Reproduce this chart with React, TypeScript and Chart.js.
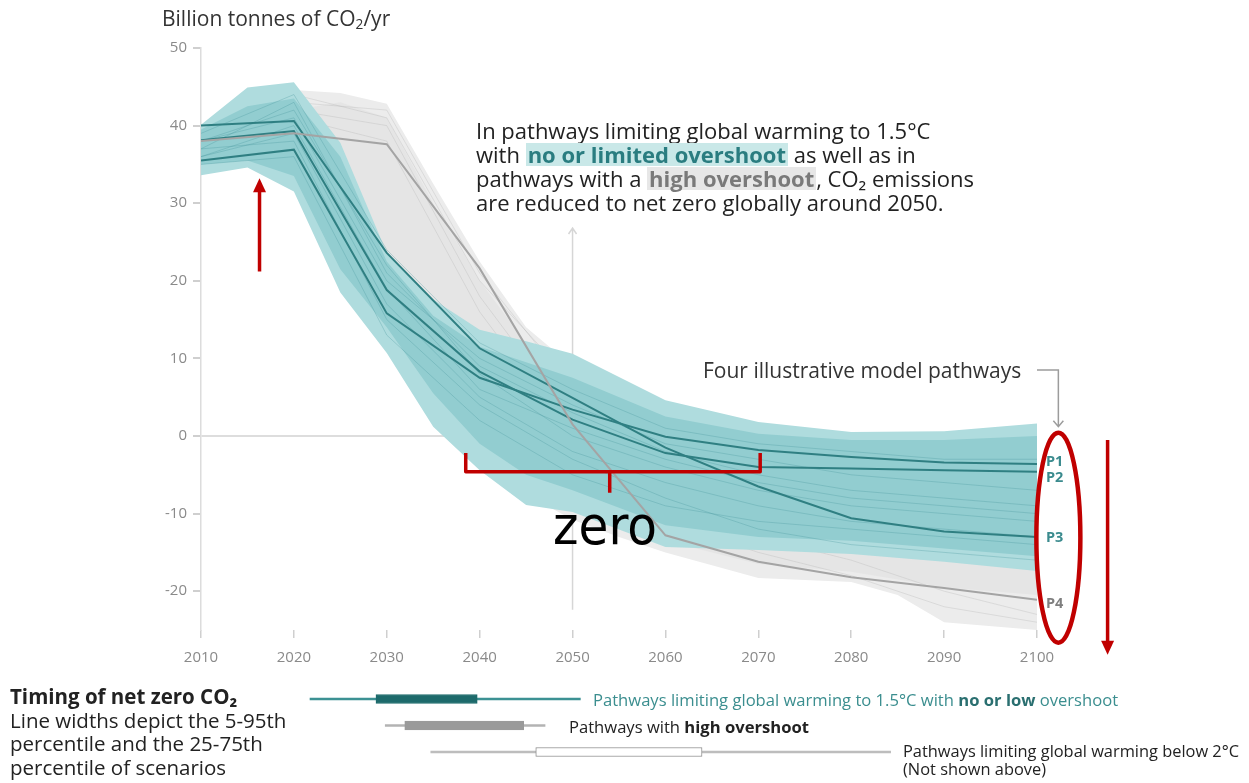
import React, { useEffect, useRef } from "react";
import { Chart, registerables } from "chart.js";

Chart.register(...registerables);

// ---------- DATA ----------
const BAND_YEARS = [2010, 2015, 2020, 2025, 2030, 2035, 2040, 2045, 2050, 2060, 2070, 2080, 2090, 2100];
const TEAL_OUTER_HIGH = [40.1, 44.9, 45.6, 37.8, 23.6, 17.6, 13.7, 12.2, 10.6, 4.6, 1.8, 0.5, 0.6, 1.6];
const TEAL_OUTER_LOW = [33.6, 34.6, 31.5, 18.5, 10.7, 1.2, -4.4, -8.9, -9.8, -14.3, -14.7, -15.2, -16.2, -17.4];
const TEAL_INNER_HIGH = [39.5, 42.5, 43.5, 36.0, 22.5, 15.5, 11.5, 9.5, 7.5, 2.5, 0.3, -0.5, -0.5, 0.0];
const TEAL_INNER_LOW = [35.0, 35.5, 33.5, 21.5, 14.0, 5.5, -1.0, -5.0, -7.0, -11.5, -13.0, -13.5, -14.5, -15.5];

const GRAY_YEARS = [2020, 2025, 2030, 2035, 2040, 2045, 2050, 2055, 2060, 2070, 2080, 2085, 2090, 2100];
const GRAY_OUTER_HIGH = [44.6, 44.2, 42.8, 32.5, 22.5, 14.0, 9.0, 6.0, 3.0, -1.0, -3.0, -4.0, -4.5, -5.0];
const GRAY_OUTER_LOW = [35.0, 26.0, 15.0, 5.0, -2.0, -7.5, -10.8, -13.0, -15.0, -18.3, -18.8, -20.5, -24.0, -25.0];
const GRAY_INNER_HIGH = [42.0, 43.0, 41.0, 30.0, 20.0, 12.0, 6.0, 3.0, 0.0, -3.0, -5.0, -6.0, -6.5, -7.0];
const GRAY_INNER_LOW = [36.0, 30.0, 20.0, 8.0, 0.0, -5.0, -9.0, -11.5, -13.5, -16.5, -17.5, -18.5, -19.5, -20.5];

const LINE_YEARS = [2010, 2020, 2030, 2040, 2050, 2060, 2070, 2080, 2090, 2100];
const P1 = [35.5, 36.9, 15.8, 7.5, 3.4, -0.1, -1.8, -2.7, -3.4, -3.6];
const P2 = [38.1, 39.3, 18.8, 8.3, 2.1, -2.2, -4.0, -4.2, -4.4, -4.6];
const P3 = [40.0, 40.6, 23.6, 11.3, 4.9, -1.5, -6.5, -10.6, -12.3, -13.0];
const P4 = [38.0, 39.0, 37.6, 21.6, 1.5, -12.8, -16.2, -18.2, -19.6, -21.1];

const TEAL_SCEN_A = [37, 43, 21, 9, 3, -2, -5, -7, -8, -9];
const TEAL_SCEN_B = [36, 39, 17, 5, -2, -6, -9, -11, -12, -13];
const TEAL_SCEN_C = [39, 44, 24, 12, 6, 1, -1, -2, -3, -3];
const TEAL_SCEN_D = [35, 36, 13, 2, -5, -9, -11, -12, -13, -14];
const TEAL_SCEN_E = [38, 41, 20, 10, 4, -1, -3, -5, -6, -7];
const TEAL_SCEN_F = [37, 38, 15, 4, -3, -8, -12, -14, -15, -16];
const TEAL_SCEN_G = [38, 42, 22, 8, 0, -4, -7, -9, -10, -11];
const TEAL_SCEN_H = [36, 40, 19, 6, 1, -3, -6, -8, -9, -10];

const GRAY_SCEN_A = [38, 43, 42, 21, 6, -3, -7, -10, -12, -14];
const GRAY_SCEN_B = [37, 42, 40, 18, 2, -9, -13, -16, -20, -23];
const GRAY_SCEN_C = [39, 44, 41, 20, 7, 0, -4, -7, -9, -11];
const GRAY_SCEN_D = [38, 41, 38, 16, 0, -11, -15, -18, -22, -24];

const X_TICKS = [2010, 2020, 2030, 2040, 2050, 2060, 2070, 2080, 2090, 2100];
const Y_TICKS = [-20, -10, 0, 10, 20, 30, 40, 50];

// timing of net zero CO2 (years)
const TIMING_CATS = ["1.5°C no or low overshoot", "High overshoot", "Below 2°C"];
const TIMING_5_95 = [[2039.0, 2068.1], [2047.1, 2064.3], [2052.0, 2101.5]];
const TIMING_25_75 = [[2046.1, 2057.0], [2049.2, 2062.0], [2063.3, 2081.2]];

// ---------- HELPERS ----------
const pts = (xs: number[], ys: number[]) => xs.map((x, i) => ({ x, y: ys[i] }));

const band = (xs: number[], hi: number[], lo: number[], color: string, order: number) => [
  { data: pts(xs, hi), fill: "+1", backgroundColor: color, borderWidth: 0, pointRadius: 0, order },
  { data: pts(xs, lo), fill: false, borderWidth: 0, pointRadius: 0, order },
];

const thin = (ys: number[], color: string, order: number) => ({
  data: pts(LINE_YEARS, ys), fill: false, borderColor: color, borderWidth: 1, pointRadius: 0, order,
});

const RED = "#c00000";

function arrowHead(ctx: any, x: number, y: number, dir: number, w: number, h: number) {
  ctx.beginPath();
  ctx.moveTo(x, y);
  ctx.lineTo(x - w / 2, y - dir * h);
  ctx.lineTo(x + w / 2, y - dir * h);
  ctx.closePath();
  ctx.fill();
}

const annotPlugin = {
  id: "annot",
  beforeDatasetsDraw(chart: any) {
    const { ctx, scales } = chart;
    const x = scales.x, y = scales.y;
    const px = x.getPixelForValue(2050);
    const t = y.getPixelForValue(26.8), b = y.getPixelForValue(-22.4);
    ctx.save();
    ctx.strokeStyle = "#d6d6d6";
    ctx.lineWidth = 1.5;
    ctx.beginPath();
    ctx.moveTo(px, t);
    ctx.lineTo(px, b);
    ctx.moveTo(px - 4, t + 6);
    ctx.lineTo(px, t);
    ctx.lineTo(px + 4, t + 6);
    ctx.stroke();
    ctx.restore();
  },
  afterDraw(chart: any) {
    const { ctx, scales } = chart;
    const x = scales.x, y = scales.y;
    ctx.save();
    // connector from "Four illustrative model pathways"
    ctx.strokeStyle = "#9c9c9c";
    ctx.lineWidth = 1.5;
    const cx0 = x.getPixelForValue(2100.0), cx1 = x.getPixelForValue(2102.3);
    const cy0 = y.getPixelForValue(8.5), cy1 = y.getPixelForValue(1.2);
    ctx.beginPath();
    ctx.moveTo(cx0, cy0);
    ctx.lineTo(cx1, cy0);
    ctx.lineTo(cx1, cy1);
    ctx.moveTo(cx1 - 5, cy1 - 6);
    ctx.lineTo(cx1, cy1);
    ctx.lineTo(cx1 + 5, cy1 - 6);
    ctx.stroke();

    // red up arrow
    ctx.strokeStyle = RED;
    ctx.fillStyle = RED;
    ctx.lineWidth = 3.5;
    const ax = x.getPixelForValue(2016.3);
    const ay0 = y.getPixelForValue(21.2), ay1 = y.getPixelForValue(33.2);
    ctx.beginPath();
    ctx.moveTo(ax, ay0);
    ctx.lineTo(ax, ay1 + 12);
    ctx.stroke();
    arrowHead(ctx, ax, ay1, -1, 13, 14);

    // brace
    const bl = x.getPixelForValue(2038.5), br = x.getPixelForValue(2070.2), bm = x.getPixelForValue(2054.0);
    const bt = y.getPixelForValue(-2.2), bh = y.getPixelForValue(-4.6), bb = y.getPixelForValue(-7.3);
    ctx.lineWidth = 3.5;
    ctx.lineJoin = "round";
    ctx.beginPath();
    ctx.moveTo(bl, bt);
    ctx.lineTo(bl, bh);
    ctx.lineTo(br, bh);
    ctx.lineTo(br, bt);
    ctx.moveTo(bm, bh);
    ctx.lineTo(bm, bb);
    ctx.stroke();

    // ellipse around P labels
    const ex = x.getPixelForValue(2102.3), ey = y.getPixelForValue(-13.1);
    ctx.lineWidth = 4.5;
    ctx.beginPath();
    ctx.ellipse(ex, ey, 22, 105, 0, 0, Math.PI * 2);
    ctx.stroke();

    // red down arrow
    const dx = x.getPixelForValue(2107.6);
    const dy0 = y.getPixelForValue(-0.5), dy1 = y.getPixelForValue(-28.2);
    ctx.lineWidth = 3.5;
    ctx.beginPath();
    ctx.moveTo(dx, dy0);
    ctx.lineTo(dx, dy1 - 12);
    ctx.stroke();
    arrowHead(ctx, dx, dy1, 1, 13, 14);
    ctx.restore();
  },
};

const TICK_FONT = { family: '"Open Sans", sans-serif', size: 15 };

export default function App() {
  const mainRef = useRef<HTMLCanvasElement>(null);
  const legRef = useRef<HTMLCanvasElement>(null);

  useEffect(() => {
    const teal = "#2f7f82";
    const datasets: any[] = [
      ...band(GRAY_YEARS, GRAY_OUTER_HIGH, GRAY_OUTER_LOW, "#ececec", 100),
      ...band(GRAY_YEARS, GRAY_INNER_HIGH, GRAY_INNER_LOW, "#e5e5e5", 95),
      thin(GRAY_SCEN_A, "rgba(175,175,175,0.3)", 90),
      thin(GRAY_SCEN_B, "rgba(175,175,175,0.3)", 90),
      thin(GRAY_SCEN_C, "rgba(175,175,175,0.3)", 90),
      thin(GRAY_SCEN_D, "rgba(175,175,175,0.3)", 90),
      ...band(BAND_YEARS, TEAL_OUTER_HIGH, TEAL_OUTER_LOW, "#afdcde", 80),
      ...band(BAND_YEARS, TEAL_INNER_HIGH, TEAL_INNER_LOW, "#92cdd0", 75),
      thin(TEAL_SCEN_A, "rgba(70,150,155,0.3)", 70),
      thin(TEAL_SCEN_B, "rgba(70,150,155,0.3)", 70),
      thin(TEAL_SCEN_C, "rgba(70,150,155,0.3)", 70),
      thin(TEAL_SCEN_D, "rgba(70,150,155,0.3)", 70),
      thin(TEAL_SCEN_E, "rgba(70,150,155,0.3)", 70),
      thin(TEAL_SCEN_F, "rgba(70,150,155,0.3)", 70),
      thin(TEAL_SCEN_G, "rgba(70,150,155,0.3)", 70),
      thin(TEAL_SCEN_H, "rgba(70,150,155,0.3)", 70),
      { label: "P1", data: pts(LINE_YEARS, P1), borderColor: teal, borderWidth: 2, pointRadius: 0, fill: false, order: 10 },
      { label: "P2", data: pts(LINE_YEARS, P2), borderColor: teal, borderWidth: 2, pointRadius: 0, fill: false, order: 10 },
      { label: "P3", data: pts(LINE_YEARS, P3), borderColor: teal, borderWidth: 2, pointRadius: 0, fill: false, order: 10 },
      { label: "P4", data: pts(LINE_YEARS, P4), borderColor: "#a4a4a4", borderWidth: 2, pointRadius: 0, fill: false, order: 5 },
    ];

    const main = new Chart(mainRef.current!, {
      type: "line",
      data: { datasets },
      plugins: [annotPlugin],
      options: {
        responsive: false,
        animation: false,
        events: [],
        layout: { padding: { left: 141, right: 212, top: 48, bottom: 113 } },
        elements: { line: { tension: 0 } },
        plugins: { legend: { display: false }, tooltip: { enabled: false } },
        scales: {
          x: {
            type: "linear",
            min: 2010,
            max: 2100,
            afterBuildTicks: (s: any) => { s.ticks = X_TICKS.map((v) => ({ value: v })); },
            afterFit: (s: any) => { s.height = 40; },
            ticks: { color: "#8a8a8a", font: TICK_FONT, padding: 11, callback: (v: any) => String(v) },
            grid: { drawOnChartArea: false, drawTicks: true, tickLength: 8, tickColor: "#cfcfcf", lineWidth: 1.5 },
            border: { display: false },
          },
          y: {
            type: "linear",
            min: -25,
            max: 50,
            afterBuildTicks: (s: any) => { s.ticks = Y_TICKS.map((v) => ({ value: v })); },
            afterFit: (s: any) => { s.width = 60; },
            ticks: { color: "#8a8a8a", font: TICK_FONT, padding: 6 },
            grid: {
              drawOnChartArea: true,
              drawTicks: true,
              tickLength: 8,
              tickColor: "#cfcfcf",
              lineWidth: 2,
              color: (c: any) => (c.tick && c.tick.value === 0 ? "#dddddd" : "rgba(0,0,0,0)"),
            },
            border: { display: true, color: "#dcdcdc", width: 1.5 },
          },
        },
      } as any,
    });

    const leg = new Chart(legRef.current!, {
      type: "bar",
      data: {
        labels: TIMING_CATS,
        datasets: [
          {
            data: TIMING_5_95 as any,
            backgroundColor: ["#3c9193", "#b3b3b3", "#bdbdbd"],
            barThickness: 2,
            grouped: false,
            order: 2,
          } as any,
          {
            data: TIMING_25_75 as any,
            backgroundColor: ["#1d6a6b", "#9a9a9a", "#ffffff"],
            borderColor: ["#1d6a6b", "#9a9a9a", "#8f8f8f"],
            borderWidth: 1,
            borderSkipped: false,
            barThickness: 9,
            grouped: false,
            order: 1,
          } as any,
        ],
      },
      options: {
        indexAxis: "y",
        responsive: false,
        animation: false,
        events: [],
        layout: { padding: { left: 133.5, right: 279.4, top: 5.75, bottom: 14.75 } },
        plugins: { legend: { display: false }, tooltip: { enabled: false } },
        scales: {
          x: { type: "linear", min: 2020, max: 2110, display: false },
          y: { type: "category", display: false, offset: true },
        },
      } as any,
    });

    return () => {
      main.destroy();
      leg.destroy();
    };
  }, []);

  const abs = (left: number, top: number, extra: any = {}) => ({
    position: "absolute" as const, left, top, whiteSpace: "nowrap" as const, ...extra,
  });

  const hl = (bg: string, color: string) => ({
    display: "inline-block", lineHeight: "23px", height: 23, background: bg, color, fontWeight: 700, padding: "0 2px",
  });

  return (
    <div
      style={{
        position: "absolute", left: 0, top: 0, width: 1249, height: 783, overflow: "hidden",
        background: "#fff", fontFamily: '"Open Sans", sans-serif', color: "#222",
      }}
    >
      <canvas ref={mainRef} width={1249} height={783} style={{ position: "absolute", left: 0, top: 0, width: 1249, height: 783 }} />
      <canvas ref={legRef} width={1249} height={100} style={{ position: "absolute", left: 0, top: 680, width: 1249, height: 100 }} />

      <div style={abs(162, 4, { fontSize: 21, lineHeight: "28px", color: "#333" })}>
        Billion tonnes of CO<sub style={{ fontSize: "0.65em", verticalAlign: "-0.25em" }}>2</sub>/yr
      </div>

      <div style={abs(476, 118, { fontSize: 22, lineHeight: "24px", color: "#222" })}>
        <div style={{ height: 24 }}>In pathways limiting global warming to 1.5°C</div>
        <div style={{ height: 24 }}>
          with <span style={hl("#c9e8e8", "#2a7d80")}>no or limited overshoot</span> as well as in
        </div>
        <div style={{ height: 24 }}>
          pathways with a <span style={hl("#e7e7e7", "#7a7a7a")}>high overshoot</span>, CO₂ emissions
        </div>
        <div style={{ height: 24 }}>are reduced to net zero globally around 2050.</div>
      </div>

      <div style={abs(703, 356, { fontSize: 21, lineHeight: "28px", color: "#333" })}>Four illustrative model pathways</div>

      <div style={abs(1046, 451, { fontSize: 14.5, fontWeight: 700, color: "#3b8b8e", lineHeight: "20px" })}>P1</div>
      <div style={abs(1046, 467, { fontSize: 14.5, fontWeight: 700, color: "#3b8b8e", lineHeight: "20px" })}>P2</div>
      <div style={abs(1046, 527, { fontSize: 14.5, fontWeight: 700, color: "#3b8b8e", lineHeight: "20px" })}>P3</div>
      <div style={abs(1046, 593, { fontSize: 14.5, fontWeight: 700, color: "#7f7f7f", lineHeight: "20px" })}>P4</div>

      <div style={abs(553, 494, { fontSize: 54, lineHeight: "64px", color: "#000", fontFamily: '"Liberation Sans Narrow", "DejaVu Sans Condensed", sans-serif' })}>zero</div>

      <div style={abs(10, 685, { fontSize: 20.5, lineHeight: "23.7px", color: "#222" })}>
        <div style={{ fontWeight: 700 }}>Timing of net zero CO₂</div>
        <div>Line widths depict the 5-95th</div>
        <div>percentile and the 25-75th</div>
        <div>percentile of scenarios</div>
      </div>

      <div style={abs(593, 689, { fontSize: 16.6, lineHeight: "22px", color: "#3b8e8f" })}>
        Pathways limiting global warming to 1.5°C with <b style={{ color: "#2a6f70" }}>no or low</b> overshoot
      </div>
      <div style={abs(569, 716, { fontSize: 16.6, lineHeight: "22px", color: "#222" })}>
        Pathways with <b>high overshoot</b>
      </div>
      <div style={abs(903, 742, { fontSize: 16.4, lineHeight: "18px", color: "#222" })}>
        <div>Pathways limiting global warming below 2°C</div>
        <div>(Not shown above)</div>
      </div>
    </div>
  );
}
